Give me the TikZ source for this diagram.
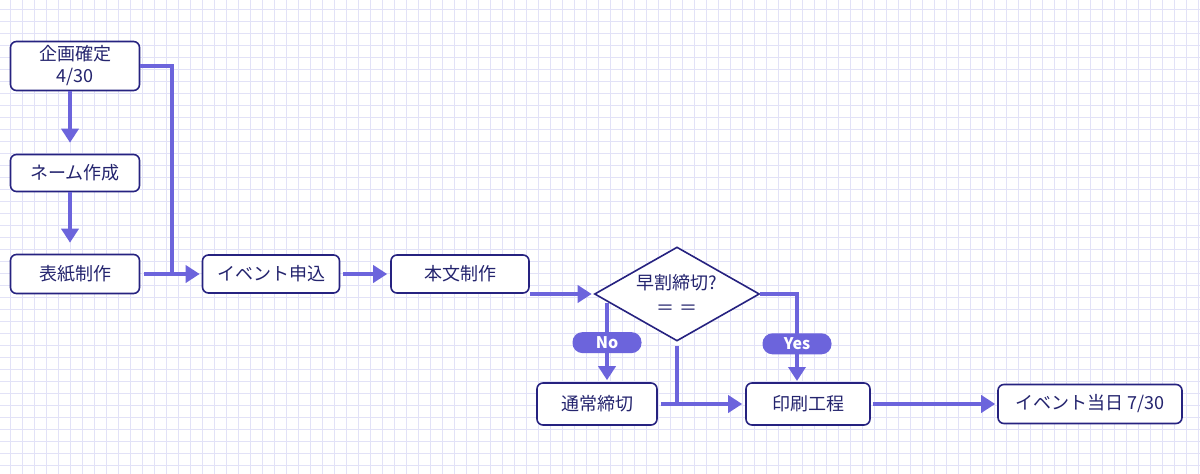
\documentclass[tikz,border=0pt]{standalone}
\usepackage{fontspec}
\setmainfont{Noto Sans CJK JP}
\usetikzlibrary{shapes.geometric,arrows.meta}
\definecolor{gridlav}{RGB}{226,226,247}
\definecolor{flowline}{RGB}{108,100,220}
\definecolor{boxedge}{RGB}{38,34,128}
\definecolor{boxtext}{RGB}{36,36,110}
\newcommand{\gridpaper}{\fill[white] (0,0) rectangle (1200,474);
        \foreach \gx in {10,22,...,1198}{\draw[gridline] (\gx,0) -- (\gx,474);}
        \foreach \gy in {9,21,...,473}{\draw[gridline] (0,\gy) -- (1200,\gy);}
    }
\begin{document}
\begin{tikzpicture}
                [x=1pt,y=-1pt,
                gridline/.style={draw=gridlav,line width=1pt},
                box/.style={rectangle,rounded corners=6pt,draw=boxedge,line width=1.6pt,fill=white,text=boxtext,
                    font=\fontsize{18}{22}\selectfont,minimum height=38pt,inner sep=2pt},
                decision/.style={diamond,draw=boxedge,line width=1.6pt,fill=white,text=boxtext,
                    font=\fontsize{18}{25}\selectfont,minimum width=165pt,minimum height=94pt,inner sep=-4pt,aspect=1.75},
                pill/.style={rectangle,rounded corners=10pt,fill=flowline,text=white,
                    font=\fontsize{16}{18}\selectfont\bfseries,minimum width=69pt,minimum height=21pt,inner sep=0pt},
                flow/.style={draw=flowline,line width=4.5pt},
                arrow/.style={flow,-{Triangle[length=14pt,width=17pt]}},
                ]
                \useasboundingbox (0,0) rectangle (1200,474);
                \gridpaper
                % left column
                \node[box, minimum width=129pt, minimum height=49pt, align=center] (plan) at (75,66) {企画確定\\4/30};
                \node[box, minimum width=129pt, minimum height=37pt] (name) at (75,173) {ネーム作成};
                \node[box, minimum width=129pt, minimum height=39pt] (cover) at (75,274) {表紙制作};
                % main row
                \node[box, minimum width=137pt] (event) at (271,274) {イベント申込};
                \node[box, minimum width=138pt] (body) at (460,274) {本文制作};
                \node[decision, align=center] (decide) at (677,294) {早割締切?\\＝ ＝};
                \node[box, minimum width=120pt, minimum height=42pt] (normal) at (597,404) {通常締切};
                \node[box, minimum width=124pt, minimum height=42pt] (print) at (808,404) {印刷工程};
                \node[box, minimum width=184pt, minimum height=39pt] (final) at (1090,404) {イベント当日 7/30};
                \coordinate (merge) at (172,274);
                \coordinate (nofork) at (607,303);
                \coordinate (yesdrop) at (797,383);
                % connectors
                \draw[arrow,shorten >=11pt] ([xshift=-5pt]plan.south) -- ([xshift=-5pt]name.north);
                \draw[arrow,shorten >=11pt] ([xshift=-5pt]name.south) -- ([xshift=-5pt]cover.north);
                \draw[flow] (plan.east) -| (merge);
                \draw[arrow,shorten <=4pt,shorten >=2pt] (cover) -- (event);
                \draw[arrow,shorten <=3pt,shorten >=3pt] (event) -- (body);
                \draw[arrow,shorten >=2pt] (body.south east |- decide.west) -- (decide.west);
                \draw[arrow,shorten >=2pt] (nofork) -- (nofork |- normal.north) node[pill,midway]{No};
                \draw[arrow,shorten >=2pt] (decide.east) -| (yesdrop) node[pill,pos=0.78]{Yes};
                \draw[arrow,shorten <=4pt,shorten >=3pt] (decide.south) |- (print.west);
                \draw[flow,shorten <=3pt] (normal.east) -- (normal.east -| decide.south);
                \draw[arrow,shorten <=2pt,shorten >=2pt] (print) -- (final);
            \end{tikzpicture}
\end{document}
